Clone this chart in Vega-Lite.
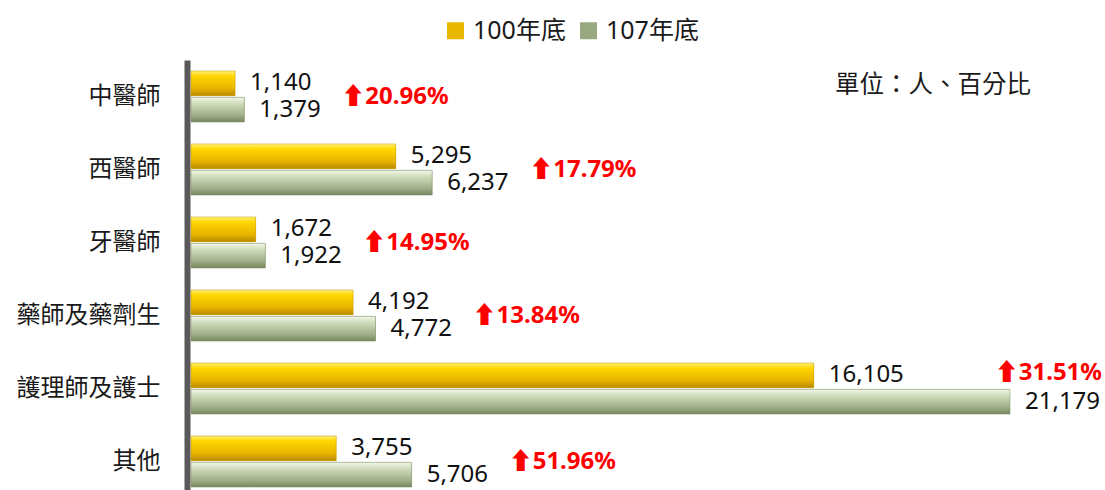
{
  "$schema": "https://vega.github.io/schema/vega-lite/v6.json",
  "autosize": {"type": "none"},
  "padding": {"left": 191, "top": 60, "right": 0, "bottom": 0},
  "width": 914,
  "height": 430,
  "config": {
    "view": {"stroke": null},
    "font": "Noto Sans, Noto Sans CJK TC",
    "text": {"font": "Noto Sans, Noto Sans CJK TC"}
  },
  "datasets": {
    "main": [
      {"cat": "中醫師", "series": "100年底", "value": 1140},
      {"cat": "中醫師", "series": "107年底", "value": 1379},
      {"cat": "西醫師", "series": "100年底", "value": 5295},
      {"cat": "西醫師", "series": "107年底", "value": 6237},
      {"cat": "牙醫師", "series": "100年底", "value": 1672},
      {"cat": "牙醫師", "series": "107年底", "value": 1922},
      {"cat": "藥師及藥劑生", "series": "100年底", "value": 4192},
      {"cat": "藥師及藥劑生", "series": "107年底", "value": 4772},
      {"cat": "護理師及護士", "series": "100年底", "value": 16105},
      {"cat": "護理師及護士", "series": "107年底", "value": 21179},
      {"cat": "其他", "series": "100年底", "value": 3755},
      {"cat": "其他", "series": "107年底", "value": 5706}
    ],
    "pct": [
      {"cat": "中醫師", "v107": 1379, "label": "⬆20.96%"},
      {"cat": "西醫師", "v107": 6237, "label": "⬆17.79%"},
      {"cat": "牙醫師", "v107": 1922, "label": "⬆14.95%"},
      {"cat": "藥師及藥劑生", "v107": 4772, "label": "⬆13.84%"},
      {"cat": "護理師及護士", "v107": 21179, "label": "⬆31.51%"},
      {"cat": "其他", "v107": 5706, "label": "⬆51.96%"}
    ],
    "note": [{"text": "單位：人、百分比"}]
  },
  "encoding": {
    "y": {
      "field": "cat",
      "type": "nominal",
      "sort": ["中醫師", "西醫師", "牙醫師", "藥師及藥劑生", "護理師及護士", "其他"],
      "scale": {"paddingInner": 0.3, "paddingOuter": 0.095, "align": 0.79},
      "axis": {
        "title": null,
        "ticks": false,
        "tickSize": 0,
        "offset": 4,
        "domainColor": "#595959",
        "domainWidth": 6,
        "labelPadding": 27,
        "labelFontSize": 24,
        "labelFont": "Noto Sans CJK TC",
        "labelColor": "#1a1a1a"
      }
    }
  },
  "layer": [
    {
      "data": {"name": "main"},
      "mark": {"type": "bar"},
      "encoding": {
        "x": {"field": "value", "type": "quantitative", "scale": {"domain": [0, 23636], "nice": false}, "axis": null},
        "yOffset": {"field": "series", "type": "nominal", "scale": {"paddingInner": 0.06, "paddingOuter": 0}},
        "color": {
          "field": "series",
          "type": "nominal",
          "scale": {"domain": ["100年底", "107年底"], "range": ["#E8B800", "#98A880"]},
          "legend": {
            "title": null,
            "orient": "none",
            "direction": "horizontal",
            "legendX": 252,
            "legendY": -42,
            "padding": 0,
            "symbolType": "square",
            "symbolSize": 289,
            "symbolStrokeWidth": 0,
            "labelFontSize": 25,
            "labelFont": "Noto Sans, Noto Sans CJK TC",
            "labelColor": "#1a1a1a",
            "labelOffset": 5,
            "columnPadding": 10
          }
        }
      }
    },
    {
      "data": {"name": "main"},
      "transform": [{"filter": "datum.series === '100年底'"}],
      "mark": {
        "type": "bar",
        "color": {
          "gradient": "linear", "x1": 0, "y1": 0, "x2": 0, "y2": 1,
          "stops": [
            {"offset": 0, "color": "#FFF27A"},
            {"offset": 0.2, "color": "#FFD700"},
            {"offset": 0.7, "color": "#E8B400"},
            {"offset": 1, "color": "#B88A00"}
          ]
        },
        "stroke": "#C79A00",
        "strokeWidth": 0.5
      },
      "encoding": {
        "x": {"field": "value", "type": "quantitative"},
        "yOffset": {"datum": "100年底"}
      }
    },
    {
      "data": {"name": "main"},
      "transform": [{"filter": "datum.series === '107年底'"}],
      "mark": {
        "type": "bar",
        "color": {
          "gradient": "linear", "x1": 0, "y1": 0, "x2": 0, "y2": 1,
          "stops": [
            {"offset": 0, "color": "#F2F7E8"},
            {"offset": 0.25, "color": "#D0DCBC"},
            {"offset": 0.7, "color": "#A2B28A"},
            {"offset": 1, "color": "#76865F"}
          ]
        },
        "stroke": "#7C8C66",
        "strokeWidth": 0.5
      },
      "encoding": {
        "x": {"field": "value", "type": "quantitative"},
        "yOffset": {"datum": "107年底"}
      }
    },
    {
      "data": {"name": "main"},
      "mark": {"type": "text", "align": "left", "baseline": "middle", "dx": 15, "fontSize": 24, "color": "#111111"},
      "encoding": {
        "x": {"field": "value", "type": "quantitative"},
        "yOffset": {"field": "series", "type": "nominal"},
        "text": {"field": "value", "type": "quantitative", "format": ","}
      }
    },
    {
      "data": {"name": "pct"},
      "transform": [{"filter": "datum.cat !== '護理師及護士'"}],
      "mark": {"type": "text", "align": "left", "baseline": "middle", "dx": 97, "fontSize": 24, "fontWeight": "bold", "color": "#FF0000"},
      "encoding": {
        "x": {"field": "v107", "type": "quantitative"},
        "text": {"field": "label", "type": "nominal"}
      }
    },
    {
      "data": {"name": "pct"},
      "transform": [{"filter": "datum.cat === '護理師及護士'"}],
      "mark": {"type": "text", "align": "right", "baseline": "middle", "dx": 92, "dy": -16, "fontSize": 24, "fontWeight": "bold", "color": "#FF0000"},
      "encoding": {
        "x": {"field": "v107", "type": "quantitative"},
        "text": {"field": "label", "type": "nominal"}
      }
    },
    {
      "data": {"name": "note"},
      "mark": {"type": "text", "align": "left", "baseline": "middle", "dy": -11, "fontSize": 24.5, "font": "Noto Sans CJK TC", "color": "#1a1a1a"},
      "encoding": {
        "x": {"datum": 16654, "type": "quantitative"},
        "y": {"datum": "中醫師", "type": "nominal"},
        "text": {"field": "text", "type": "nominal"}
      }
    }
  ]
}
